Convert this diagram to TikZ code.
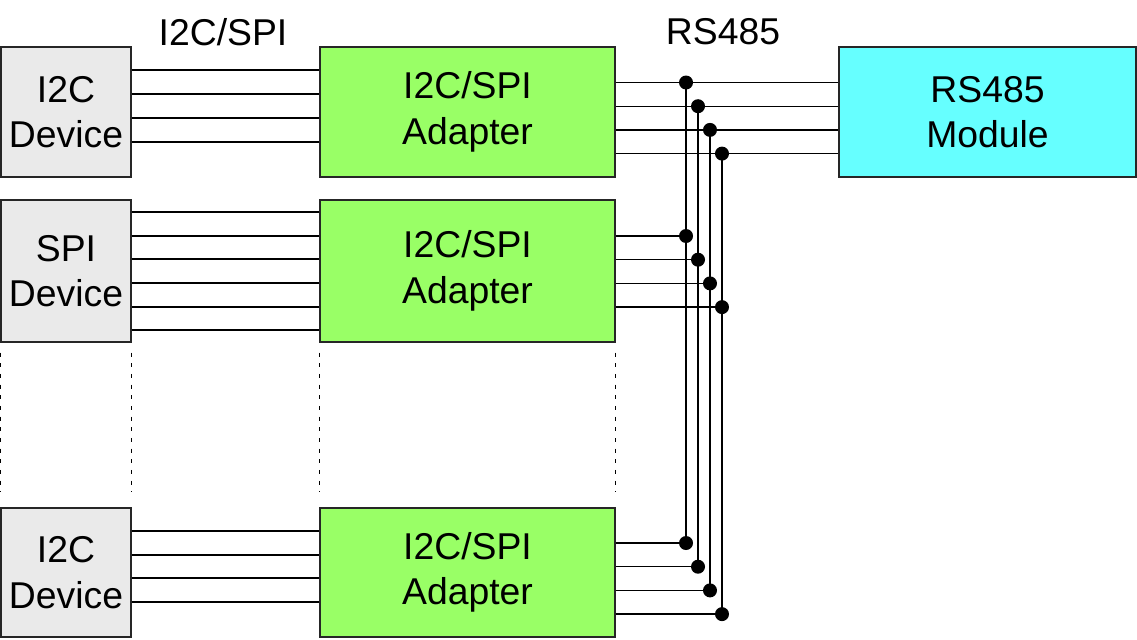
\documentclass[tikz,border=0pt]{standalone}
\usepackage{fontspec}
\setmainfont{Liberation Sans}
\usepackage{tikz}
\usetikzlibrary{calc,positioning}
\definecolor{devgray}{RGB}{234,234,234}
\definecolor{adgreen}{RGB}{153,255,102}
\definecolor{modcyan}{RGB}{102,255,255}
\tikzset{
box/.style={draw=black!85,line width=0.9pt,inner sep=0pt,align=center,
  font=\fontsize{28}{34}\selectfont},
device/.style={box,fill=devgray,minimum width={130*0.75pt}},
adapter/.style={box,fill=adgreen,minimum width={295*0.75pt}},
module/.style={box,fill=modcyan,minimum width={297*0.75pt},minimum height={130*0.75pt}},
wire/.style={line width=1pt},
gap/.style={line width=1.2pt,dash pattern=on 3pt off 5pt},
dot/.style={circle,fill=black,inner sep=0pt,minimum size=10.5pt}
}
\begin{document}
\begin{tikzpicture}[x=0.75pt,y=-0.75pt]
\useasboundingbox (0,0) rectangle (1137,639);
\node (t1) at (223,32) {\fontsize{28}{32}\selectfont I2C/SPI};
\node (t2) at (723,32) {\fontsize{28}{32}\selectfont RS485};
% devices
\node[device,minimum height={130*0.75pt}] (dA) at (66,112) {I2C\\Device};
\node[device,minimum height={142*0.75pt}] (dB) at (66,271) {SPI\\Device};
\node[device,minimum height={129*0.75pt}] (dC) at (66,572.5) {I2C\\Device};
% adapters
\node[adapter,minimum height={130*0.75pt}] (aA) at (467.5,112) {I2C/SPI\\Adapter};
\node[adapter,minimum height={142*0.75pt}] (aB) at (467.5,271) {I2C/SPI\\Adapter};
\node[adapter,minimum height={129*0.75pt}] (aC) at (467.5,572.5) {I2C/SPI\\Adapter};
\node[module] (m) at (987.5,112) {RS485\\Module};
% device to adapter
\foreach \y in {70,94,118,142}
  \draw[wire] (dA.east |- 0,\y) -- (aA.west |- 0,\y);
\foreach \y in {212,236,259,283,307,330}
  \draw[wire] (dB.east |- 0,\y) -- (aB.west |- 0,\y);
\foreach \y in {531,555,578,602}
  \draw[wire] (dC.east |- 0,\y) -- (aC.west |- 0,\y);
% rs485 bus
\foreach \i in {0,1,2,3}{
  \pgfmathsetmacro{\bx}{686+12*\i}
  \pgfmathsetmacro{\ty}{82.5+23.7*\i}
  \pgfmathsetmacro{\my}{236+23.7*\i}
  \pgfmathsetmacro{\by}{543+23.7*\i}
  \coordinate (bt\i) at (\bx,\ty);
  \coordinate (bm\i) at (\bx,\my);
  \coordinate (bb\i) at (\bx,\by);
  \draw[wire] (aA.east |- bt\i) -- (m.west |- bt\i);
  \draw[wire] (aB.east |- bm\i) -- (bm\i);
  \draw[wire] (aC.east |- bb\i) -- (bb\i);
  \draw[wire] (bt\i) -- (bb\i);
  \node[dot] at (bt\i) {};
  \node[dot] at (bm\i) {};
  \node[dot] at (bb\i) {};
}
% gaps
\foreach \n/\a in {d/west,d/east,a/west,a/east}
  \draw[gap] ($(\n B.south \a)+(0,10)$) -- ($(\n C.north \a)+(0,-16)$);
\end{tikzpicture}
\end{document}
